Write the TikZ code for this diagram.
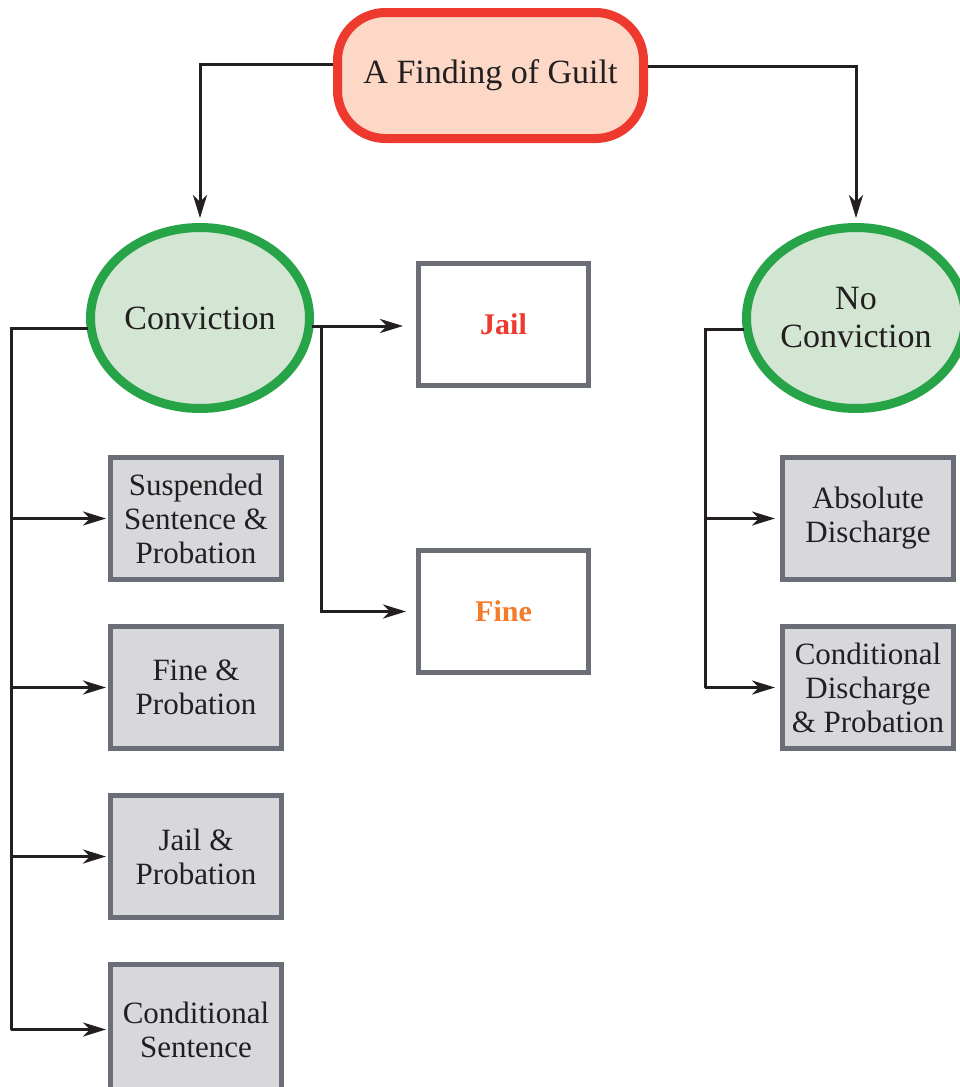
\documentclass[tikz,border=0pt]{standalone}
\usepackage{fontspec}
\setmainfont{Liberation Serif}
\usetikzlibrary{arrows.meta,shapes.geometric}
\definecolor{guiltred}{HTML}{EE3A2E}
\definecolor{guiltfill}{HTML}{FDD8C6}
\definecolor{convgreen}{HTML}{27A348}
\definecolor{convfill}{HTML}{D2E6D3}
\definecolor{boxgray}{HTML}{6B6E76}
\definecolor{boxfill}{HTML}{D8D8DC}
\definecolor{inkblack}{HTML}{231F20}
\definecolor{fineorange}{HTML}{F47B2A}
\tikzset{
  topbox/.style={draw=guiltred, line width=9pt, fill=guiltfill, rounded corners=48pt,
    minimum width=306pt, minimum height=126pt, inner sep=0pt, text=inkblack,
    font=\fontsize{34}{38}\selectfont},
  outcome/.style={ellipse, draw=convgreen, line width=9pt, fill=convfill,
    minimum width=219pt, minimum height=181pt, inner sep=0pt, text=inkblack,
    align=center, font=\fontsize{34}{38}\selectfont},
  whitebox/.style={draw=boxgray, line width=5pt, fill=white, minimum width=170pt,
    minimum height=122pt, inner sep=0pt, font=\bfseries\fontsize{30}{32}\selectfont},
  graybox/.style={draw=boxgray, line width=5pt, fill=boxfill, minimum width=171pt,
    minimum height=122pt, inner sep=0pt, text=inkblack, align=center,
    font=\fontsize{31}{34}\selectfont},
  conn/.style={draw=inkblack, line width=3pt},
  arr/.style={conn, -{Stealth[length=23pt, width=14pt, inset=7pt]}},
}
\begin{document}
\begin{tikzpicture}[x=1pt, y=-1pt]
\useasboundingbox (0,0) rectangle (960,1087);
\clip (0,0) rectangle (960,1087);

\node[topbox] (guilt) at (490.5,75.5) {A Finding of Guilt};
\node[outcome] (conv) at (200,318) {Conviction};
\node[outcome] (noconv) at (856,318) {No\\Conviction};

\node[whitebox, text=guiltred] (jail) at (503.5,324.5) {Jail};
\node[whitebox, text=fineorange] (fine) at (503.5,611.5) {Fine};

\node[graybox] (susp) at (196,518.5) {Suspended\\Sentence \&\\Probation};
\node[graybox] (fineprob) at (196,687.5) {Fine \&\\Probation};
\node[graybox] (jailprob) at (196,856.5) {Jail \&\\Probation};
\node[graybox, minimum height=130pt] (condsent) at (196,1029.5) {Conditional\\Sentence};

\node[graybox] (absdis) at (868,518.5) {Absolute\\Discharge};
\node[graybox] (conddis) at (868,687.5) {Conditional\\Discharge\\\& Probation};

% top branches
\draw[arr, shorten >=5pt] ([yshift=11pt]guilt.west) -| (conv.north);
\draw[arr, shorten >=5pt] ([yshift=9.5pt]guilt.east) -| (noconv.north);

% conviction to jail / fine
\coordinate (cj) at ([yshift=-8pt, xshift=-2pt]conv.east);
\coordinate (cjv) at ([xshift=9pt]cj);
\draw[arr, shorten >=13pt] (cj) -- (cj -| jail.west);
\draw[arr, shorten >=10pt] (cj) -| ([yshift=0pt]cjv |- fine.west) -- (fine.west);

% left bus
\coordinate (lb) at ([yshift=-10pt, xshift=2pt]conv.west);
\coordinate (lbx) at (11,0);
\draw[conn] (lb) -- (lb -| lbx) -- (lbx |- condsent.west);
\foreach \n in {susp,fineprob,jailprob,condsent}
  \draw[arr, shorten >=2pt] (lbx |- \n.west) -- (\n.west);

% right bus
\coordinate (rb) at ([yshift=-11pt, xshift=2pt]noconv.west);
\coordinate (rbx) at (705,0);
\draw[conn] (rb) -- (rb -| rbx) -- (rbx |- conddis.west);
\foreach \n in {absdis,conddis}
  \draw[arr, shorten >=5pt] (rbx |- \n.west) -- (\n.west);
\end{tikzpicture}
\end{document}
